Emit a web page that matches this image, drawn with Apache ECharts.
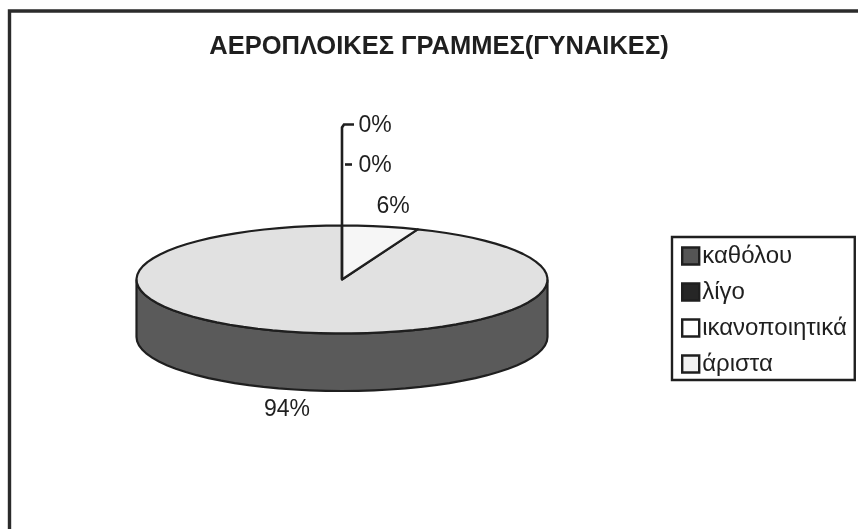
<!DOCTYPE html>
<html><head><meta charset="utf-8">
<script src="https://cdn.jsdelivr.net/npm/echarts@6/dist/echarts.min.js"></script>
<style>html,body{margin:0;padding:0;background:#fff}#c{width:858px;height:529px}</style>
</head><body><div id="c"></div>
<script>
var title = 'ΑΕΡΟΠΛΟΙΚΕΣ ΓΡΑΜΜΕΣ(ΓΥΝΑΙΚΕΣ)';
var categories = ['καθόλου', 'λίγο', 'ικανοποιητικά', 'άριστα'];
var shares = [6, 94, 0, 0];

var faceColors = ['#f6f6f6', '#e1e1e1', '#ffffff', '#f2f2f2'];
var sideColors = ['#8a8a8a', '#5a5a5a', '#888888', '#888888'];
var swatchColors = ['#555555', '#262626', '#ffffff', '#f2f2f2'];

var INK = '#1f1f1f';
var FONT = '"Liberation Sans", Arial, sans-serif';
var CX = 342, CY = 279.5, RX = 205.5, RY = 54, DEPTH = 57.5;
// label anchor for each category, as offsets from the pie centre
var labelOffsets = [[51, -74], [-55, 129], [33, -155], [33, -115]];

var total = shares.reduce(function (a, b) { return a + b; }, 0);
function angleOf(v) { return echarts.number.linearMap(v, [0, total], [0, Math.PI * 2]); }
function ex(a) { return CX + RX * Math.sin(a); }
function ey(a, d) { return CY - RY * Math.cos(a) + (d || 0); }
function arc(a0, a1, d) {
  var pts = [], n = Math.max(2, Math.ceil(Math.abs(a1 - a0) * 40 / Math.PI));
  for (var i = 0; i <= n; i++) {
    var a = a0 + (a1 - a0) * i / n;
    pts.push([ex(a), ey(a, d)]);
  }
  return pts;
}

function renderSlice(idx) {
  return function (params, api) {
    var v = api.value(0);
    var before = 0;
    for (var i = 0; i < idx; i++) before += shares[i];
    var a0 = angleOf(before), a1 = angleOf(before + v);
    var children = [];
    if (v > 0) {
      var s0 = Math.max(a0, Math.PI / 2), s1 = Math.min(a1, Math.PI * 1.5);
      if (s1 > s0) {
        children.push({
          type: 'polygon',
          shape: { points: arc(s0, s1, 0).concat(arc(s1, s0, DEPTH)) },
          style: { fill: sideColors[idx], stroke: INK, lineWidth: 2.2 }
        });
      }
      children.push({
        type: 'polygon',
        shape: { points: [[CX, CY]].concat(arc(a0, a1, 0)) },
        style: { fill: faceColors[idx], stroke: INK, lineWidth: 2.2, lineJoin: 'round' }
      });
    }
    var off = labelOffsets[idx];
    if (v === 0) {
      // leader from the pie's rim up to the zero-share label
      var pts = off[1] < -130
        ? [[CX, CY], [CX, CY + off[1] + 3], [CX + 2, CY + off[1]], [CX + off[0] - 21, CY + off[1]]]
        : [[CX + 3, CY + off[1]], [CX + off[0] - 23, CY + off[1]]];
      children.push({
        type: 'polyline',
        shape: { points: pts },
        style: { fill: null, stroke: INK, lineWidth: 2.6 }
      });
    }
    children.push({
      type: 'text',
      style: {
        x: CX + off[0], y: CY + off[1] + 1, text: Math.round(v / total * 100) + '%',
        font: '23px ' + FONT, fill: INK, align: 'center', verticalAlign: 'middle'
      }
    });
    return { type: 'group', children: children };
  };
}

var chart = echarts.init(document.getElementById('c'), null, { renderer: 'canvas' });
chart.setOption({
  animation: false,
  backgroundColor: '#ffffff',
  title: {
    text: title, left: 434, top: 29, textAlign: 'center',
    textStyle: { fontFamily: FONT, fontSize: 25.5, fontWeight: 'bold', color: INK }
  },
  legend: {
    orient: 'vertical', left: 672, top: 237, padding: [7, 8, 4, 9],
    itemWidth: 17, itemHeight: 17, itemGap: 12, selectedMode: false,
    borderColor: INK, borderWidth: 2.4, backgroundColor: '#ffffff', borderRadius: 0,
    textStyle: { fontFamily: FONT, fontSize: 24, color: INK, padding: [0, 0, 0, -2] },
    data: categories.map(function (c, i) {
      return { name: c, icon: 'rect',
        itemStyle: { color: swatchColors[i], borderColor: INK, borderWidth: 2.4 } };
    })
  },
  graphic: [{
    type: 'polyline', silent: true,
    shape: { points: [[9.5, 529], [9.5, 11], [858, 11]] },
    style: { fill: null, stroke: '#2b2b2b', lineWidth: 3.4 }
  }],
  series: categories.map(function (c, i) {
    return {
      type: 'custom', name: c, coordinateSystem: 'none', silent: true,
      z: i === 2 || i === 3 ? 3 : (i === 0 ? 2 : 1),
      itemStyle: { color: swatchColors[i] },
      renderItem: renderSlice(i),
      data: [[shares[i]]]
    };
  })
});
</script></body></html>
